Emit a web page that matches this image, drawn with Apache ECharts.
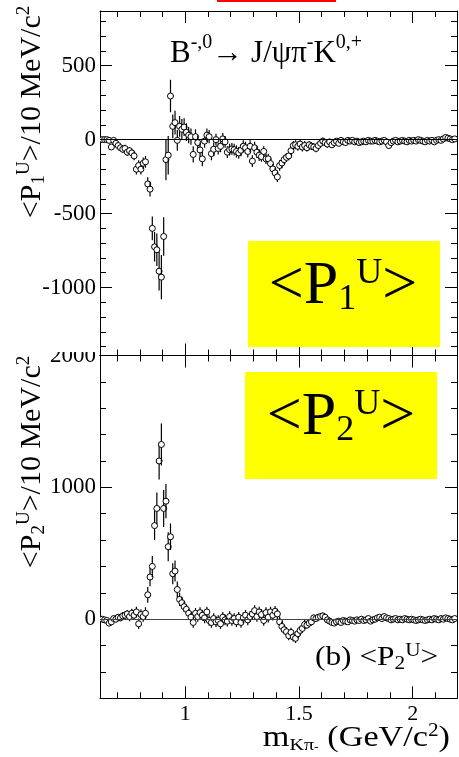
<!DOCTYPE html>
<html><head><meta charset="utf-8">
<script src="https://cdn.jsdelivr.net/npm/echarts@6/dist/echarts.min.js"></script>
<style>html,body{margin:0;padding:0;background:#fff}#c{width:459px;height:757px}</style>
</head><body><div id="c"></div>
<script>
// ---------------- data ----------------
const mass = [
0.635,0.645,0.655,0.665,0.675,0.685,0.695,0.705,0.715,0.725,
0.735,0.745,0.755,0.765,0.775,0.785,0.795,0.805,0.815,0.825,
0.835,0.845,0.855,0.865,0.875,0.885,0.895,0.905,0.915,0.925,
0.935,0.945,0.955,0.965,0.975,0.985,0.995,1.005,1.015,1.025,
1.035,1.045,1.055,1.065,1.075,1.085,1.095,1.105,1.115,1.125,
1.135,1.145,1.155,1.165,1.175,1.185,1.195,1.205,1.215,1.225,
1.235,1.245,1.255,1.265,1.275,1.285,1.295,1.305,1.315,1.325,
1.335,1.345,1.355,1.365,1.375,1.385,1.395,1.405,1.415,1.425,
1.435,1.445,1.455,1.465,1.475,1.485,1.495,1.505,1.515,1.525,
1.535,1.545,1.555,1.565,1.575,1.585,1.595,1.605,1.615,1.625,
1.635,1.645,1.655,1.665,1.675,1.685,1.695,1.705,1.715,1.725,
1.735,1.745,1.755,1.765,1.775,1.785,1.795,1.805,1.815,1.825,
1.835,1.845,1.855,1.865,1.875,1.885,1.895,1.905,1.915,1.925,
1.935,1.945,1.955,1.965,1.975,1.985,1.995,2.005,2.015,2.025,
2.035,2.045,2.055,2.065,2.075,2.085,2.095,2.105,2.115,2.125,
2.135,2.145,2.155,2.165,2.175,2.185];

const p1 = [
0,0,0,-5,-50,-5,-25,-40,-55,-65,
-60,-85,-75,-90,-110,-200,-175,-200,-160,-150,
-300,-335,-600,-725,-745,-890,-930,-655,-135,-105,
295,90,115,-5,90,70,85,50,30,20,
-100,20,-20,-70,-130,-10,30,20,-95,-65,
0,-60,-45,5,-15,-85,-68,-63,-68,-80,
-90,-72,-45,-55,-80,-45,-145,-55,-85,-105,
-115,-80,-130,-130,-162,-198,-225,-252,-175,-158,
-135,-120,-110,-75,-40,-35,-45,-30,-50,-40,
-55,-35,-45,-50,-60,-40,-25,-10,-20,-30,
-15,-35,-20,-10,-25,-5,-15,-20,-5,-10,
-5,-15,-10,-20,-15,-10,-15,-5,-10,-10,
-5,-10,-15,-10,-5,-15,-40,-20,-10,-5,
-15,-10,-5,-10,-15,-5,-10,-5,-10,0,
-5,-10,-15,-5,-10,-5,-15,-5,0,-5,
5,15,10,5,0,5];

const p1err = [
5,5,5,8,15,15,20,20,20,25,
25,25,25,25,30,35,35,35,40,40,
45,50,80,100,110,130,150,130,140,130,
110,80,80,70,70,70,60,60,55,55,
55,50,50,50,50,45,45,45,45,45,
40,40,40,40,40,40,40,40,40,40,
40,40,40,40,40,40,40,40,40,40,
35,35,35,35,35,35,35,35,35,35,
30,30,30,30,30,30,30,30,30,30,
25,25,25,25,25,25,25,25,25,25,
20,20,20,20,20,20,20,20,20,20,
15,15,15,15,15,15,15,15,15,15,
15,15,15,15,15,15,15,15,15,15,
15,15,15,15,15,15,15,15,15,15,
15,15,15,15,15,15,15,15,15,15,
15,15,15,15,15,15];

const p2 = [
0,-5,-10,-30,-20,5,0,15,10,25,
30,40,20,45,30,55,-35,35,20,45,
185,320,400,710,840,1200,1325,840,895,550,
625,345,365,225,150,125,95,75,45,15,
-25,45,20,50,30,10,55,-10,-25,5,
-20,-10,-35,15,-5,-15,20,-10,5,-20,
15,-25,10,30,-5,20,40,65,20,55,
35,-10,50,15,55,30,60,40,-20,-55,
-80,-95,-125,-100,-135,-145,-110,-85,-70,-40,
-45,-30,-20,10,5,15,20,25,15,-5,
-15,-25,-30,-20,-15,-25,-10,-15,-20,-5,
-10,-15,-5,-10,0,-10,-5,5,-15,-5,
0,10,15,5,20,10,5,-5,0,5,
-5,0,-5,5,0,-5,0,-5,-10,-5,
0,-5,-10,-5,0,-5,5,0,-5,5,
0,10,5,0,-5,5];

const p2err = [
15,15,15,20,20,20,25,25,25,30,
30,30,35,35,35,40,40,40,40,45,
60,70,80,110,120,140,160,140,130,110,
100,80,80,60,50,45,40,35,35,35,
40,40,40,40,40,40,40,40,40,40,
40,40,40,40,40,40,40,40,40,40,
40,40,40,40,40,40,40,40,40,40,
40,40,40,40,40,40,40,40,40,40,
35,35,35,35,35,35,35,35,35,35,
25,25,25,25,25,25,25,25,25,25,
15,15,15,15,15,15,15,15,15,15,
12,12,12,12,12,12,12,12,12,12,
12,12,12,12,12,12,12,12,12,12,
12,12,12,12,12,12,12,12,12,12,
12,12,12,12,12,12,12,12,12,12,
12,12,12,12,12,12];

const xMajor = [1, 1.5, 2];
const xMinor = [0.7,0.8,0.9,1.1,1.2,1.3,1.4,1.6,1.7,1.8,1.9,2.1];
const y1Major = [-1000,-500,0,500];
const y1Minor = [-1400,-1300,-1200,-1100,-900,-800,-700,-600,-400,-300,-200,-100,100,200,300,400,600,700,800];
const y2Major = [0,1000,2000];
const y2Minor = [-400,-200,200,400,600,800,1200,1400,1600,1800];

// ---------------- layout/style ----------------
const X_MIN = 0.625, X_MAX = 2.195;
const Y1 = [-1460, 870], Y2 = [-600, 2000];
const SERIF = 'Liberation Serif';
const GRID_L = 100, GRID_R = 2;

const chart = echarts.init(document.getElementById('c'));

function xAx(grid, pos, ticks, len, labels, lineShow) {
  return {
    type:'value', gridIndex:grid, position:pos, min:X_MIN, max:X_MAX,
    axisLine:{show:lineShow, onZero:false, lineStyle:{color:'#000', width:1}},
    axisTick:{show:true, inside:true, length:len, customValues:ticks, lineStyle:{color:'#000', width:1}},
    axisLabel:{show:!!labels, customValues:labels||[], color:'#000', fontFamily:SERIF, fontSize:22, margin:5,
      formatter: v => String(v)},
    splitLine:{show:false}
  };
}
function yAx(grid, pos, range, ticks, len, labels, lineShow) {
  return {
    type:'value', gridIndex:grid, position:pos, min:range[0], max:range[1],
    axisLine:{show:lineShow, onZero:false, lineStyle:{color:'#000', width:1}},
    axisTick:{show:true, inside:true, length:len, customValues:ticks, lineStyle:{color:'#000', width:1}},
    axisLabel:{show:!!labels, customValues:labels||[], color:'#000', fontFamily:SERIF, fontSize:23, margin:4,
      formatter: v => String(v)},
    splitLine:{show:false}
  };
}

function renderErr(params, api) {
  const x = api.value(0), y = api.value(1), e = api.value(2);
  const p = api.coord([x, y]);
  const lo = api.coord([x, y - e]);
  const hi = api.coord([x, y + e]);
  return {type:'group', children:[
    {type:'line', shape:{x1:p[0], y1:lo[1], x2:p[0], y2:hi[1]}, style:{stroke:'#000', lineWidth:1.2}},
    {type:'circle', shape:{cx:p[0], cy:p[1], r:3}, style:{fill:'#fff', stroke:'#000', lineWidth:1}}
  ]};
}

function boxRich() {
  return {a:{fontFamily:SERIF, fontSize:62, lineHeight:62, verticalAlign:'middle', fill:'#000'},
          b:{fontFamily:SERIF, fontSize:36, lineHeight:30, verticalAlign:'bottom', fill:'#000'},
          c:{fontFamily:SERIF, fontSize:36, lineHeight:36, verticalAlign:'top', fill:'#000'}};
}
function titleRich(n, s) {
  return {n:{fontFamily:SERIF, fontSize:n, lineHeight:n+4, verticalAlign:'middle', fill:'#000'},
          b:{fontFamily:SERIF, fontSize:s, lineHeight:s, verticalAlign:'bottom', fill:'#000'},
          c:{fontFamily:SERIF, fontSize:s, lineHeight:s, verticalAlign:'top', fill:'#000'}};
}

const option = {
  animation:false,
  backgroundColor:'#fff',
  textStyle:{fontFamily:SERIF},
  grid:[
    {left:GRID_L, right:GRID_R, top:11, height:344.5},
    {left:GRID_L, right:GRID_R, top:355.5, bottom:58.7}
  ],
  xAxis:[
    xAx(0,'bottom',xMajor,12,null,true),
    xAx(0,'bottom',xMinor,6,null,false),
    xAx(0,'top',xMajor,12,null,true),
    xAx(0,'top',xMinor,6,null,false),
    xAx(1,'bottom',xMajor,12,xMajor,true),
    xAx(1,'bottom',xMinor,6,null,false),
    xAx(1,'top',xMajor,12,null,true),
    xAx(1,'top',xMinor,6,null,false)
  ],
  yAxis:[
    yAx(0,'left',Y1,y1Major,12,y1Major,true),
    yAx(0,'left',Y1,y1Minor,6,null,false),
    yAx(0,'right',Y1,y1Major,12,null,true),
    yAx(0,'right',Y1,y1Minor,6,null,false),
    yAx(1,'left',Y2,y2Major,12,y2Major,true),
    yAx(1,'left',Y2,y2Minor,6,null,false),
    yAx(1,'right',Y2,y2Major,12,null,true),
    yAx(1,'right',Y2,y2Minor,6,null,false)
  ],
  series:[
    {type:'custom', name:'P1', xAxisIndex:0, yAxisIndex:0, clip:true,
     data: mass.map((m,i)=>[m, p1[i], p1err[i]]), renderItem:renderErr,
     markLine:{silent:true, symbol:'none', label:{show:false}, lineStyle:{color:'#000', width:1, type:'solid'}, data:[{yAxis:0}]}},
    {type:'custom', name:'P2', xAxisIndex:4, yAxisIndex:4, clip:true,
     data: mass.map((m,i)=>[m, p2[i], p2err[i]]), renderItem:renderErr,
     markLine:{silent:true, symbol:'none', label:{show:false}, lineStyle:{color:'#444', width:1, type:'solid'}, data:[{yAxis:0}]}}
  ],
  graphic:[
    {type:'rect', shape:{x:217, y:0, width:119, height:2}, style:{fill:'#ff0000'}, z:10},
    {type:'rect', shape:{x:20, y:330, width:78, height:22}, style:{fill:'#fff'}, z:100},
    {type:'rect', shape:{x:248, y:241, width:192, height:106}, style:{fill:'#ffff00'}, z:5},
    {type:'rect', shape:{x:245, y:372, width:192, height:107}, style:{fill:'#ffff00'}, z:5},
    {type:'text', x:343, y:287, z:6, style:{
      text:'{a|<P}{b|1}{c|U}{a|>}', align:'center', verticalAlign:'middle', rich:boxRich()}},
    {type:'text', x:341, y:418, z:6, style:{
      text:'{a|<P}{b|2}{c|U}{a|>}', align:'center', verticalAlign:'middle', rich:boxRich()}},
    {type:'text', x:170, y:51, z:6, style:{
      text:'{n|B}{s|-,0}{n|→ J/ψπ}{s|-}{n|K}{s|0,+}', align:'left', verticalAlign:'middle',
      rich:{n:{fontFamily:SERIF, fontSize:31, lineHeight:36, verticalAlign:'bottom', fill:'#000'},
            s:{fontFamily:SERIF, fontSize:20, lineHeight:20, verticalAlign:'top', fill:'#000'}}}},
    {type:'text', x:32, y:112, rotation:Math.PI/2, z:6, style:{
      text:'{n|<P}{b|1}{c|U}{n|>/10 MeV/c}{c|2}', align:'center', verticalAlign:'middle',
      rich:titleRich(30, 19)}},
    {type:'text', x:32, y:462, rotation:Math.PI/2, z:6, style:{
      text:'{n|<P}{b|2}{c|U}{n|>/10 MeV/c}{c|2}', align:'center', verticalAlign:'middle',
      rich:titleRich(30, 19)}},
    {type:'text', x:315, y:658, scaleX:1.12, z:6, style:{
      text:'{n|(b) <P}{b|2}{c|U}{n|>}', align:'left', verticalAlign:'middle',
      rich:titleRich(28, 19)}},
    {type:'text', x:450, y:738, scaleX:1.18, z:6, style:{
      text:'{n|m}{b|Kπ}{t|-}{n| (GeV/c}{c|2}{n|)}', align:'right', verticalAlign:'middle',
      rich:{n:{fontFamily:SERIF, fontSize:29, lineHeight:32, verticalAlign:'middle', fill:'#000'},
            b:{fontFamily:SERIF, fontSize:17, lineHeight:17, verticalAlign:'bottom', fill:'#000'},
            t:{fontFamily:SERIF, fontSize:12, lineHeight:28, verticalAlign:'bottom', fill:'#000'},
            c:{fontFamily:SERIF, fontSize:18, lineHeight:18, verticalAlign:'top', fill:'#000'}}}}
  ]
};
chart.setOption(option);
</script></body></html>
